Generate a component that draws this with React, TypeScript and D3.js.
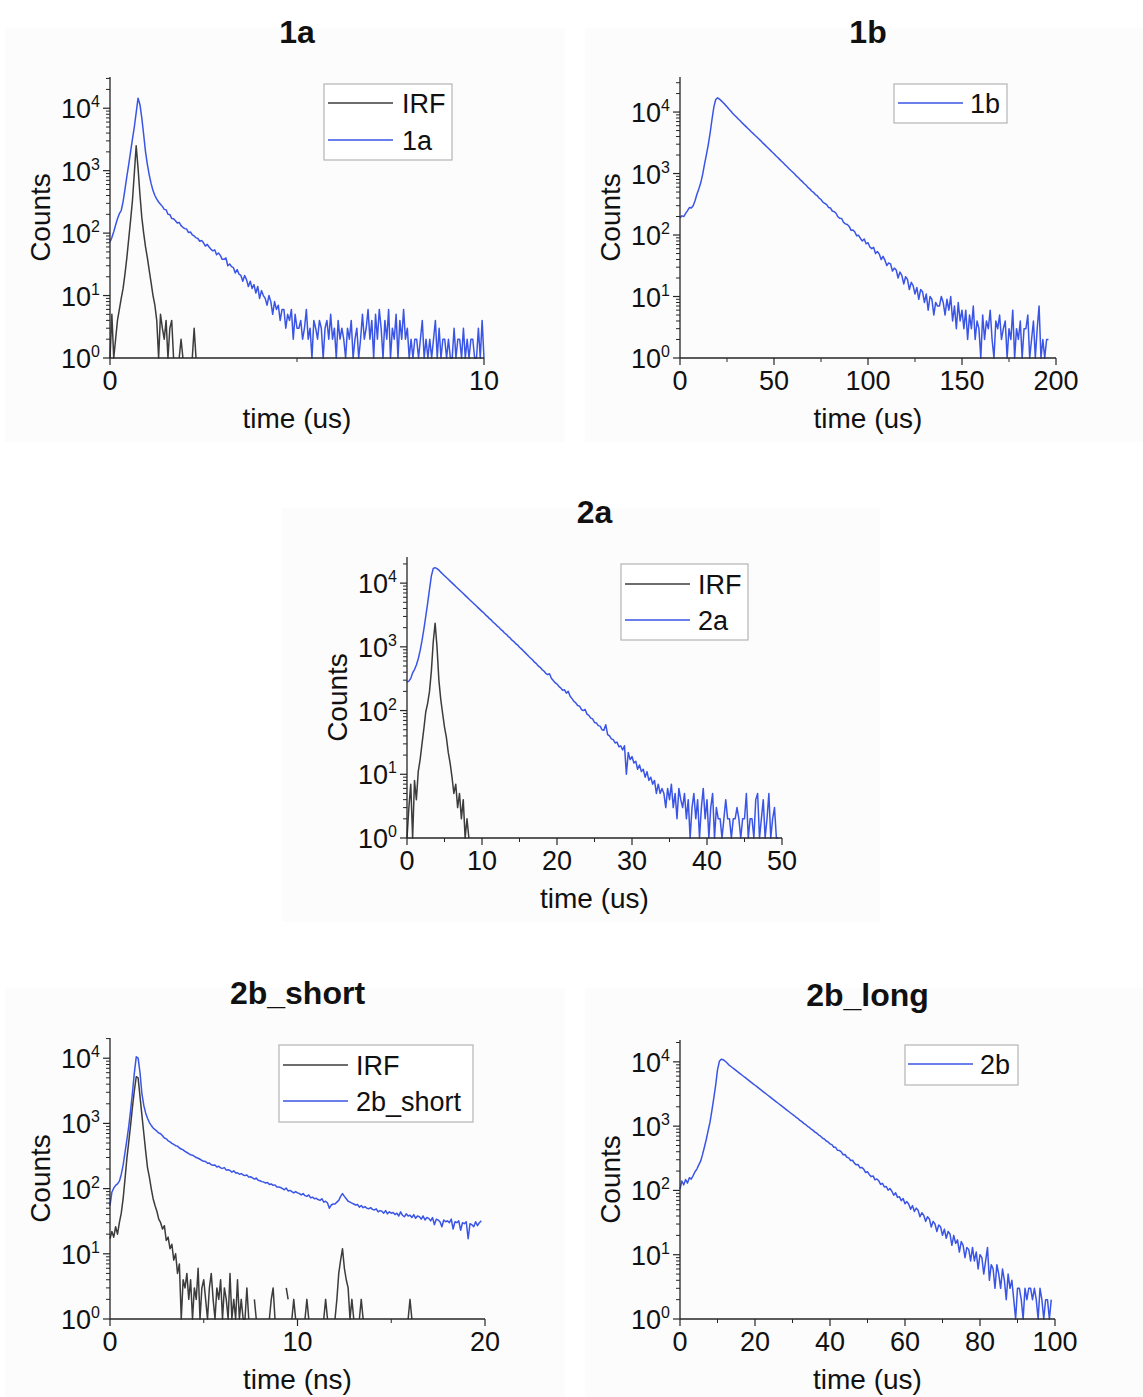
import React from "react";
import * as d3 from "d3";

const FONT = "'Liberation Sans', Arial, Helvetica, sans-serif";
const BLUE = "#3a55e6";
const GREY = "#3c3c3c";

// ---------- data (counts per time bin) ----------
const step1a = 0.05; // us
const counts1a = [
  72, 85, 105, 135, 170, 205, 230, 320, 500, 800, 1250, 2000, 3200, 5000, 8500, 14500,
  11500, 7000, 3800, 2000, 1250, 850, 620, 480, 400, 350, 315, 290, 268, 240, 236, 200, 198, 172, 170,
  158, 145, 148, 132, 124, 118, 116, 102, 104, 94, 90, 84, 82, 74, 76, 70, 62, 66, 60, 55,
  52, 54, 45, 48, 44, 38, 38, 40, 30, 32, 29, 28, 23, 26, 22, 21, 17, 21, 18, 14,
  17, 13, 15, 11, 14, 9, 12, 10, 9, 7, 10, 8, 5, 8, 6, 7, 4, 6, 6, 3, 5, 4, 6, 2, 5, 3,
  3, 4, 2, 3, 6, 2, 3, 1, 4, 3,
  2, 4, 3, 1, 3, 4, 2, 5, 2, 3,
  1, 4, 2, 3, 2, 1, 3, 2, 4, 1,
  2, 3, 1, 2, 5, 2, 3, 6, 2, 4,
  1, 5, 2, 6, 3, 1, 4, 2, 6, 1,
  3, 2, 5, 1, 4, 2, 6, 2, 3, 1,
  2, 1, 2, 2, 1, 2, 4, 1, 2, 1,
  2, 1, 2, 4, 1, 3, 1, 2, 2, 1,
  2, 1, 1, 3, 1, 2, 2, 1, 3, 1,
  2, 1, 2, 2, 1, 1, 3, 1, 4, 1,
];
const irf1a = [
  1, 5, 1, 2, 4, 6, 9, 13, 22, 40, 80, 160, 330, 900, 2500, 1100, 420, 180, 100, 60,
  40, 25, 16, 10, 7, 4, 1, 5, 3, 2, 4, 1, 3, 4, 1, 0, 0, 1, 2, 1, 0, 0, 0, 0, 1, 3, 1,
];

const step1b = 1; // us
const counts1b = [
  190, 205, 200, 225, 250, 280, 275, 300, 360, 460, 560, 700, 950, 1400, 2000, 2900, 4500, 7500, 12000, 16000, 17000,
  16200, 15200, 14200, 13200, 12200, 11200, 10400, 9600, 8900, 8300, 7700, 7200, 6700, 6250, 5850,
  5450, 5100, 4750, 4450, 4150, 3900, 3650, 3400, 3150, 2950, 2750, 2570, 2400, 2240, 2100,
  1950, 1820, 1700, 1580, 1480, 1380, 1290, 1200, 1120,
  1050, 980, 905, 855, 790, 745, 688, 650, 596, 565, 520, 495, 455, 436, 398,
  378, 343, 328, 312, 281, 276, 246, 240, 226, 198,
  187, 186, 160, 152, 148, 138, 119, 121, 112, 97,
  99, 88, 80, 86, 72, 75, 64, 60, 63, 50,
  54, 49, 40, 45, 39, 32, 35, 34, 26, 29,
  27, 20, 25, 22, 16, 21, 19, 13, 17, 15,
  11, 14, 9, 13, 12, 8, 11, 6, 10, 9,
  5, 8, 7,
  7, 10, 8, 5, 9, 6, 10, 4, 7, 3, 8, 4, 6,
  3, 6, 2, 5, 3, 7, 2, 4, 3, 1, 5, 2, 4, 3, 6, 2, 1, 4, 3, 5, 2, 3, 4, 1, 3,
  2, 6, 1, 3, 2, 4, 1, 3, 3, 5, 1, 2, 4, 1, 3, 7, 1, 2, 1, 2, 2,
];

const step2a = 0.25; // us
const counts2a = [
  280, 290, 320, 390, 440, 520, 650, 870, 1250, 1900, 3000, 4800, 8000, 13000, 17000, 17500, 16900, 16000,
  14860, 13930, 13060, 12250, 11480, 10765, 10090, 9460, 8870, 8320, 7800, 7310, 6855, 6430, 6025, 5650,
  5300, 4965, 4655, 4365, 4090, 3840,
  3600, 3390, 3150, 2980, 2770, 2620, 2430, 2300, 2140, 2030, 1880, 1785, 1650, 1570, 1450, 1380, 1270, 1210, 1120, 1065, 985,
  930, 868, 812, 758, 705, 662, 622, 575, 545, 502,
  478, 440, 418, 384, 366, 378, 322, 296, 274, 260,
  240, 226, 208, 212, 188, 200, 168, 154, 140, 132,
  120, 118, 104, 100, 104, 88, 84, 76, 74, 65,
  64, 58, 57, 50, 49, 60, 42, 40, 36, 35,
  31, 32, 27, 28, 24, 28, 10, 22, 17, 19,
  15, 16, 12, 14, 11, 12, 9, 11, 8, 9,
  7, 8, 5, 7, 5, 6,
  5, 3, 6, 4, 7, 3, 5, 2, 6, 4,
  3, 5, 2, 4, 1, 3, 5, 2, 4, 1,
  3, 6, 2, 4, 1, 3, 5, 1, 3, 2,
  2, 1, 2, 4, 2, 2, 1, 2, 2, 3,
  2, 1, 2, 2, 5, 1, 2, 2, 1, 4,
  5, 1, 2, 4, 1, 2, 5, 1, 2, 3,
  1, 1,
];
const irf2a = [
  1, 3, 7, 1, 8, 4, 11, 17, 30, 52, 95, 130, 200, 420, 1200, 2350, 1000, 300, 150, 90,
  55, 38, 22, 15, 9, 5, 7, 3, 5, 2, 4, 1, 2, 1,
];

const step2bShort = 0.1; // ns
const counts2bShort = [
  55, 88, 102, 112, 118, 130, 165, 230, 360, 560, 900, 1600, 3000, 6000, 10500, 10000, 6000, 2900, 1900, 1450,
  1200, 1030, 930, 850,
  805, 760, 712, 695, 648, 598,
  580, 540, 520, 495, 475, 455, 448, 420, 405, 392,
  372, 358, 345, 330, 325, 312, 300, 292, 282, 270,
  262, 260, 245, 246, 232, 228, 230, 215, 220, 208,
  204, 210, 192, 195, 190, 178, 188, 174, 175, 166,
  170, 162, 158, 162, 150, 152, 146, 140, 145, 134,
  132, 128, 126, 122, 124, 116, 118, 112, 114, 106,
  106, 104, 100, 96, 102, 92, 94, 90, 86, 90,
  86, 84, 80, 84, 78, 76, 80, 72, 74, 70,
  71, 68, 66, 70, 62, 64, 60, 50, 56, 58,
  58, 62, 66, 76, 84, 76, 70, 64, 62, 60,
  58, 56, 57, 52, 55, 51, 53, 50, 49, 51,
  48, 47, 49, 44, 46, 45, 42, 46, 41, 44,
  42, 43, 40, 42, 38, 44, 39, 37, 41, 38,
  39, 36, 40, 35, 38, 37, 34, 38, 33, 36,
  35, 32, 36, 28, 34, 33, 31, 26, 33, 31,
  32, 30, 34, 24, 31, 30, 32, 23, 30, 29,
  31, 17, 29, 28, 26, 31, 27, 30, 32,
];
const irf2bShort = [
  17, 22, 18, 26, 20, 30, 42, 70, 140, 290,
  520, 950, 1800, 3200, 5200, 5000, 2600, 1350, 720, 380,
  210, 150, 100, 70, 55, 45, 34, 30, 24, 27,
  16, 18, 12, 14, 8, 10, 5, 7, 1, 4,
  3, 5, 2, 4, 1, 3, 2, 6, 1, 3,
  4, 2, 1, 3, 5, 2, 1, 3, 2, 4,
  1, 3, 2, 1, 5, 1, 2, 1, 4, 1,
  2, 1, 1, 3, 1, 0, 0, 2, 1, 0,
  0, 1, 0, 0, 0, 1, 2, 3, 1, 0,
  0, 1, 0, 0, 3, 2, 0, 1, 2, 1,
  0, 0, 0, 0, 1, 2, 1, 0, 0, 0,
  0, 0, 0, 0, 1, 2, 1, 0, 0, 0,
  1, 2, 5, 8, 12, 6, 4, 3, 1, 2,
  1, 0, 0, 1, 2, 1, 0, 0, 0, 0,
  0, 0, 0, 0, 0, 0, 0, 0, 0, 0,
  0, 0, 0, 0, 0, 0, 0, 0, 0, 1,
  2, 1,
];

const step2bLong = 0.5; // us
const counts2bLong = [
  105, 140, 122, 148, 130, 158, 150, 170, 195, 215, 250, 285, 360, 470, 620, 850, 1150, 1750, 2700, 4300, 7500, 10200,
  11000, 10800, 10300, 9700,
  8990, 8535, 8100, 7690, 7300, 6925, 6575, 6240, 5920, 5620, 5335, 5060, 4800, 4560, 4325, 4105, 3895, 3700,
  3510, 3330, 3160, 3000, 2845, 2700, 2565, 2435, 2310, 2190, 2080, 1975, 1875, 1780, 1690, 1600,
  1520, 1450, 1365, 1305, 1228, 1175, 1105, 1060, 995, 955, 898, 860, 808, 775, 726, 698, 652, 630, 588, 568, 530,
  515, 470, 468, 421, 419, 398, 359, 362, 328, 321,
  292, 295, 266, 250, 253, 225, 228, 214, 190, 195,
  176, 164, 168, 146, 151, 141, 124, 129, 113, 115,
  101, 107, 97, 84, 92, 78, 80, 69, 75, 62,
  67, 61, 51, 58, 47, 53, 49, 39, 45, 41,
  33, 39, 36, 27, 33, 30, 23, 29, 27, 20,
  25, 18, 23, 21, 14, 20, 15, 17, 11, 16,
  14, 9, 13, 12, 8, 13, 8, 11, 6, 10,
  9, 5, 8, 13, 4, 7, 6, 3, 7, 5,
  3, 6, 4, 2, 5, 3, 4, 2, 1, 3,
  3, 2, 1, 3, 2, 3, 3, 2, 3, 2,
  1, 3, 2, 1, 2, 2, 1, 2,
];

// ---------- axis ticks ----------
const yDecades = [0, 1, 2, 3, 4];
const xTicks1a = [0, 10];
const xMinor1a = [5];
const xTicks1b = [0, 50, 100, 150, 200];
const xMinor1b = [25, 75, 125, 175];
const xTicks2a = [0, 10, 20, 30, 40, 50];
const xMinor2a = [5, 15, 25, 35, 45];
const xTicks2bShort = [0, 10, 20];
const xMinor2bShort = [5, 15];
const xTicks2bLong = [0, 20, 40, 60, 80, 100];
const xMinor2bLong = [10, 30, 50, 70, 90];

type Series = { name: string; color: string; step: number; counts: number[] };
type Legend = { x: number; y: number; w: number; h: number; lineX1: number; lineX2: number; textX: number; rows: number[] };
type PanelCfg = {
  title: string;
  left: number; right: number; top: number; bottom: number;
  xMax: number; yTopExp: number;
  xTicks: number[]; xMinor: number[];
  xLabel: string;
  series: Series[];
  legendItems: Series[];
  legend: Legend;
};

const panels: PanelCfg[] = [
  {
    title: "1a", left: 110, right: 484, top: 77, bottom: 358, xMax: 10, yTopExp: 4.5,
    xTicks: xTicks1a, xMinor: xMinor1a, xLabel: "time (us)",
    series: [
      { name: "1a", color: BLUE, step: step1a, counts: counts1a },
      { name: "IRF", color: GREY, step: step1a, counts: irf1a },
    ],
    legendItems: [
      { name: "IRF", color: GREY, step: 0, counts: [] },
      { name: "1a", color: BLUE, step: 0, counts: [] },
    ],
    legend: { x: 324, y: 84, w: 128, h: 76, lineX1: 328, lineX2: 393, textX: 402, rows: [103, 140] },
  },
  {
    title: "1b", left: 680, right: 1056, top: 77, bottom: 358, xMax: 200, yTopExp: 4.57,
    xTicks: xTicks1b, xMinor: xMinor1b, xLabel: "time (us)",
    series: [{ name: "1b", color: BLUE, step: step1b, counts: counts1b }],
    legendItems: [{ name: "1b", color: BLUE, step: 0, counts: [] }],
    legend: { x: 894, y: 84, w: 113, h: 39, lineX1: 898, lineX2: 963, textX: 970, rows: [103] },
  },
  {
    title: "2a", left: 407, right: 782, top: 557, bottom: 838, xMax: 50, yTopExp: 4.41,
    xTicks: xTicks2a, xMinor: xMinor2a, xLabel: "time (us)",
    series: [
      { name: "2a", color: BLUE, step: step2a, counts: counts2a },
      { name: "IRF", color: GREY, step: step2a, counts: irf2a },
    ],
    legendItems: [
      { name: "IRF", color: GREY, step: 0, counts: [] },
      { name: "2a", color: BLUE, step: 0, counts: [] },
    ],
    legend: { x: 621, y: 564, w: 127, h: 76, lineX1: 625, lineX2: 690, textX: 698, rows: [584, 620] },
  },
  {
    title: "2b_short", left: 110, right: 485, top: 1038, bottom: 1319, xMax: 20, yTopExp: 4.31,
    xTicks: xTicks2bShort, xMinor: xMinor2bShort, xLabel: "time (ns)",
    series: [
      { name: "2b_short", color: BLUE, step: step2bShort, counts: counts2bShort },
      { name: "IRF", color: GREY, step: step2bShort, counts: irf2bShort },
    ],
    legendItems: [
      { name: "IRF", color: GREY, step: 0, counts: [] },
      { name: "2b_short", color: BLUE, step: 0, counts: [] },
    ],
    legend: { x: 279, y: 1045, w: 194, h: 77, lineX1: 283, lineX2: 348, textX: 356, rows: [1065, 1101] },
  },
  {
    title: "2b_long", left: 680, right: 1055, top: 1040, bottom: 1319, xMax: 100, yTopExp: 4.34,
    xTicks: xTicks2bLong, xMinor: xMinor2bLong, xLabel: "time (us)",
    series: [{ name: "2b", color: BLUE, step: step2bLong, counts: counts2bLong }],
    legendItems: [{ name: "2b", color: BLUE, step: 0, counts: [] }],
    legend: { x: 905, y: 1045, w: 113, h: 40, lineX1: 908, lineX2: 973, textX: 980, rows: [1064] },
  },
];

const AXIS = "#262626";

function Panel({ cfg }: { cfg: PanelCfg }) {
  const x = d3.scaleLinear().domain([0, cfg.xMax]).range([cfg.left, cfg.right]);
  const yMax = Math.pow(10, cfg.yTopExp);
  const y = d3.scaleLog().domain([1, yMax]).range([cfg.bottom, cfg.top]);
  const line = d3
    .line<[number, number]>()
    .defined((d) => d[1] > 0)
    .x((d) => x(d[0]))
    .y((d) => y(d[1]));

  const minorY: number[] = [];
  yDecades.forEach((d) => {
    for (let k = 2; k <= 9; k++) {
      const v = k * Math.pow(10, d);
      if (v <= yMax) minorY.push(v);
    }
  });

  const midY = (cfg.top + cfg.bottom) / 2;
  const midX = (cfg.left + cfg.right) / 2;

  return (
    <g>
      <text x={midX} y={cfg.top - 34} textAnchor="middle" fontSize={32} fontWeight="bold" fontFamily={FONT} fill="#111">
        {cfg.title}
      </text>

      {cfg.series.map((s) => {
        const pts: [number, number][] = s.counts.map((c, i) => [i * s.step, c]);
        return (
          <path key={s.name} d={line(pts) || ""} fill="none" stroke={s.color} strokeWidth={1.5} strokeLinejoin="round" />
        );
      })}

      <line x1={cfg.left} x2={cfg.left} y1={cfg.bottom} y2={cfg.top} stroke={AXIS} strokeWidth={1.3} />
      <line x1={cfg.left} x2={cfg.right} y1={cfg.bottom} y2={cfg.bottom} stroke={AXIS} strokeWidth={1.3} />

      {yDecades.map((d) => {
        const v = Math.pow(10, d);
        const yy = y(v);
        return (
          <g key={"yt" + d}>
            <line x1={cfg.left - 7} x2={cfg.left} y1={yy} y2={yy} stroke={AXIS} strokeWidth={1.2} />
            <text x={cfg.left - 10} y={yy + 10} textAnchor="end" fontSize={27} fontFamily={FONT} fill="#111">
              10
              <tspan dy={-11} fontSize={16}>
                {d}
              </tspan>
            </text>
          </g>
        );
      })}
      {minorY.map((v) => (
        <line key={"ym" + v} x1={cfg.left - 4} x2={cfg.left} y1={y(v)} y2={y(v)} stroke={AXIS} strokeWidth={1} />
      ))}

      {cfg.xTicks.map((t) => (
        <g key={"xt" + t}>
          <line x1={x(t)} x2={x(t)} y1={cfg.bottom} y2={cfg.bottom + 7} stroke={AXIS} strokeWidth={1.2} />
          <text x={x(t)} y={cfg.bottom + 32} textAnchor="middle" fontSize={27} fontFamily={FONT} fill="#111">
            {t}
          </text>
        </g>
      ))}
      {cfg.xMinor.map((t) => (
        <line key={"xm" + t} x1={x(t)} x2={x(t)} y1={cfg.bottom} y2={cfg.bottom + 4} stroke={AXIS} strokeWidth={1} />
      ))}

      <text x={midX} y={cfg.bottom + 70} textAnchor="middle" fontSize={28} fontFamily={FONT} fill="#111">
        {cfg.xLabel}
      </text>
      <text
        transform={`translate(${cfg.left - 60},${midY}) rotate(-90)`}
        textAnchor="middle"
        fontSize={28}
        fontFamily={FONT}
        fill="#111"
      >
        Counts
      </text>

      <rect x={cfg.legend.x} y={cfg.legend.y} width={cfg.legend.w} height={cfg.legend.h} fill="#ffffff" stroke="#b4b4b4" strokeWidth={1.2} />
      {cfg.legendItems.map((s, i) => (
        <g key={"lg" + s.name}>
          <line x1={cfg.legend.lineX1} x2={cfg.legend.lineX2} y1={cfg.legend.rows[i]} y2={cfg.legend.rows[i]} stroke={s.color} strokeWidth={1.6} />
          <text x={cfg.legend.textX} y={cfg.legend.rows[i] + 10} fontSize={27} fontFamily={FONT} fill="#111">
            {s.name}
          </text>
        </g>
      ))}
    </g>
  );
}

export default function App() {
  return (
    <svg
      width={1143}
      height={1397}
      viewBox="0 0 1143 1397"
      style={{ position: "absolute", left: 0, top: 0, display: "block", background: "#ffffff" }}
    >
      <rect x={0} y={0} width={1143} height={1397} fill="#ffffff" />
      <rect x={5} y={28} width={560} height={414} fill="#fcfcfc" />
      <rect x={585} y={28} width={558} height={414} fill="#fcfcfc" />
      <rect x={282} y={508} width={598} height={414} fill="#fcfcfc" />
      <rect x={5} y={988} width={560} height={409} fill="#fcfcfc" />
      <rect x={585} y={988} width={558} height={409} fill="#fcfcfc" />
      {panels.map((p) => (
        <Panel key={p.title} cfg={p} />
      ))}
    </svg>
  );
}
